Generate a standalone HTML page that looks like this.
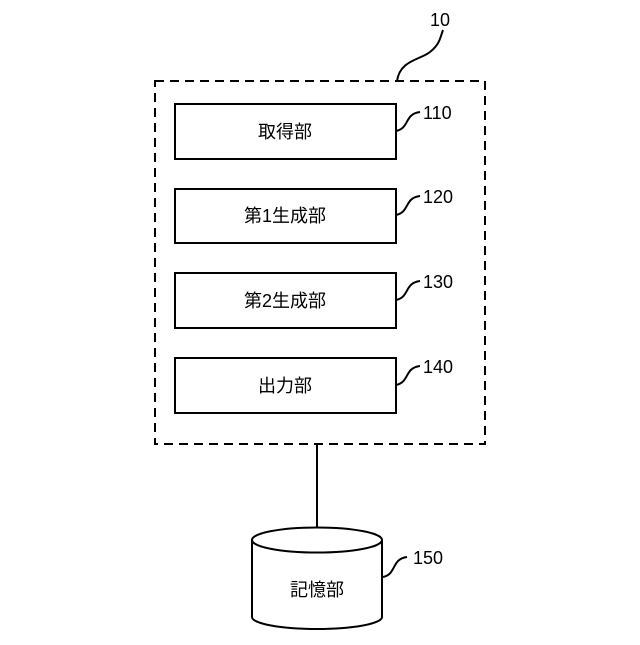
<!DOCTYPE html>
<html><head><meta charset="utf-8"><style>
body{margin:0;background:#fff}
text{font-family:"Liberation Sans","Noto Sans CJK JP",sans-serif;fill:#000}
</style></head><body>
<svg width="640" height="640" viewBox="0 0 640 640" xmlns="http://www.w3.org/2000/svg">
<g fill="none" stroke="#000" stroke-width="2">
<rect x="155" y="81" width="330" height="363" stroke-dasharray="9,6"/>
<rect x="175" y="104" width="221" height="55"/>
<rect x="175" y="189" width="221" height="54"/>
<rect x="175" y="273" width="221" height="55"/>
<rect x="175" y="358" width="221" height="55"/>
<path d="M397 81 C400 60,420 60,430 52 C440 44,440 38,443 30"/>
<path d="M396 131 C410 128,404 114,420 112"/>
<path d="M396 215 C410 212,404 198,420 196"/>
<path d="M396 300 C410 297,404 283,420 281"/>
<path d="M396 385 C410 382,404 368,420 366"/>
<path d="M383 577 C397 574,391 559,407 557"/>
<line x1="317" y1="444" x2="317" y2="528"/>
<path d="M252 540 L252 617 A65 12 0 0 0 382 617 L382 540" fill="#fff"/>
<ellipse cx="317" cy="540" rx="65" ry="12.5" fill="#fff"/>
</g>
<g font-size="18" text-anchor="middle">
<text x="285" y="138">取得部</text>
<text x="285" y="222">第1生成部</text>
<text x="285" y="307">第2生成部</text>
<text x="285" y="392">出力部</text>
<text x="317" y="596">記憶部</text>
</g>
<g font-size="18">
<text x="430" y="26">10</text>
<text x="423" y="119">110</text>
<text x="423" y="203">120</text>
<text x="423" y="288">130</text>
<text x="423" y="373">140</text>
<text x="413" y="564">150</text>
</g>
</svg>
</body></html>
